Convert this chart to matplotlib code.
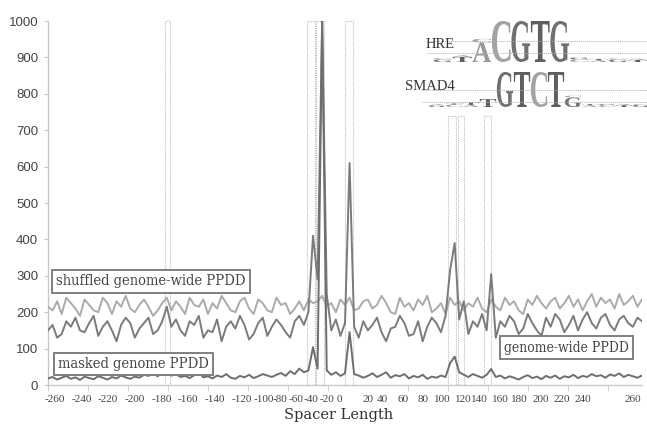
import numpy as np
import matplotlib
matplotlib.use("Agg")
import matplotlib.pyplot as plt
from matplotlib.patches import Rectangle, PathPatch
from matplotlib.textpath import TextPath
from matplotlib.font_manager import FontProperties
import matplotlib.transforms as mtransforms

# spacer length grid (step 4)
spacer = np.arange(-260, 261, 4)

genome_wide = [
    150, 165, 130, 140, 175, 160, 185, 150, 145, 170,
    190, 135, 160, 175, 150, 120, 165, 185, 170, 130,
    155, 170, 185, 140, 150, 175, 215, 160, 180, 150,
    135, 175, 165, 190, 130, 150, 145, 180, 120, 160,
    175, 155, 190, 165, 125, 140, 170, 185, 135, 160,
    180, 165, 145, 130, 175, 190, 165, 200, 410, 290,
    1000, 250, 150, 180, 135, 170, 610, 160, 130, 175,
    150, 165, 185, 145, 120, 155, 160, 190, 170, 135,
    140, 175, 120, 160, 185, 170, 145, 190, 315, 390,
    180, 230, 140, 175, 160, 195, 150, 305, 130, 175,
    160, 190, 175, 140, 155, 195, 170, 150, 135, 185,
    160, 195, 180, 145, 165, 190, 150, 180, 200, 170,
    155, 185, 195, 165, 150, 180, 190, 170, 160, 185, 175,
]

shuffled = [
    215, 205, 230, 195, 240, 225, 210, 190, 235, 220,
    205, 200, 240, 225, 195, 230, 215, 245, 210, 200,
    220, 235, 215, 190, 205, 225, 240, 205, 230, 215,
    195, 240, 220, 215, 235, 195, 225, 210, 245, 225,
    205, 200, 230, 240, 210, 195, 235, 225, 205, 200,
    240, 220, 225, 195, 210, 230, 205, 235, 225, 230,
    245, 215, 225, 200, 235, 220, 240, 205, 210, 230,
    235, 210, 220, 245, 225, 200, 195, 240, 215, 225,
    205, 235, 220, 245, 200, 210, 225, 195, 240, 220,
    230, 205, 225, 215, 240, 210, 200, 235, 215, 205,
    240, 220, 230, 205, 195, 235, 220, 245, 225, 210,
    230, 240, 210, 225, 245, 215, 235, 205, 230, 250,
    215, 240, 225, 235, 210, 250, 220, 230, 245, 215, 235,
]

masked = [
    18, 22, 15, 20, 25, 17, 21, 14, 23, 19,
    16, 24, 20, 15, 22, 18, 26, 21, 17, 23,
    20, 28, 25, 32, 24, 35, 38, 26, 30, 22,
    25, 19, 27, 35, 21, 24, 18, 26, 22, 30,
    20, 17, 25, 21, 28, 19, 24, 30, 26, 22,
    28, 33, 25, 38, 30, 45, 35, 40, 104, 45,
    1000, 40, 28, 35, 25, 32, 145, 30, 26, 20,
    25, 32, 22, 28, 35, 20, 27, 24, 30, 18,
    25, 21, 28, 17, 23, 20, 26, 22, 60, 78,
    35, 28, 22, 30, 25, 20, 28, 44, 22, 26,
    18, 24, 20, 15, 22, 27, 19, 23, 16, 25,
    20, 26, 17, 24, 21, 28, 19, 25, 22, 30,
    24, 27, 20, 29, 25, 32, 22, 28, 24, 20, 26,
]

# highlighted spacer windows (start, end, top)
windows_start = [-158, -33, -25, 0, 90, 99, 122]
windows_end = [-153, -26, -18, 7, 97, 104, 128]
windows_top = [1000, 1000, 1000, 1000, 740, 740, 740]

# x tick labels and where they sit along the axis
xlabels = ["-260", "-240", "-220", "-200", "-180", "-160", "-140", "-120", "-100",
           "-80", "-60", "-40", "-20", "0", "20", "40", "60", "80", "100", "120",
           "140", "160", "180", "200", "220", "240", "260"]
xlabel_pos = [-254, -230, -207.5, -184, -160, -137.5, -114, -90, -71,
              -56.5, -43, -29.5, -16, -5, 20, 32.5, 51, 68.5, 85, 103.5,
              118, 136, 153, 171, 190, 208.5, 252]

# sequence logos: letters per column (bottom to top) and their heights in bits
hre_letters = [["G", "C"], ["T", "A"], ["A", "C"], ["C"], ["G"], ["T"], ["G"],
               ["C", "G"], ["A", "T"], ["G", "C"], ["T", "A"]]
hre_heights = [[0.12, 0.07], [0.25, 0.08], [0.95, 0.18], [2.0], [2.0], [2.0], [2.0],
               [0.14, 0.08], [0.09, 0.06], [0.12, 0.06], [0.1, 0.06]]
smad_letters = [["G", "A"], ["C", "T"], ["A", "T"], ["T"], ["G"], ["T"], ["C"], ["T"],
                ["G", "C"], ["A", "T"], ["C", "G"], ["T", "A"], ["G", "C"]]
smad_heights = [[0.1, 0.06], [0.14, 0.06], [0.12, 0.14], [0.45], [2.0], [2.0], [2.0], [2.0],
                [0.55, 0.1], [0.1, 0.06], [0.12, 0.05], [0.1, 0.07], [0.12, 0.05]]
letter_colors = {"A": "#9a9a9a", "C": "#a3a3a3", "G": "#707070", "T": "#5f5f5f"}

W, H = 647, 425
fig = plt.figure(figsize=(W / 100, H / 100), dpi=100)
ax = fig.add_axes([48 / W, 40 / H, 594 / W, 364 / H])

ax.plot(spacer, shuffled, color="#ababab", lw=1.4, zorder=3)
ax.plot(spacer, genome_wide, color="#7b7b7b", lw=1.4, zorder=4)
ax.plot(spacer, masked, color="#6e6e6e", lw=1.4, zorder=4)

for x0, x1, top in zip(windows_start, windows_end, windows_top):
    ax.add_patch(Rectangle((x0, 0), x1 - x0, top, fill=False, ec="#bdbdbd",
                           lw=0.8, ls=(0, (1, 1)), zorder=2))

ax.set_xlim(-260, 260)
ax.set_ylim(0, 1000)
ax.set_yticks(np.arange(0, 1001, 100))
ax.tick_params(axis="y", length=3, color="#c8c8c8", labelsize=9.5, labelcolor="#444444", pad=4)
for lab in ax.get_yticklabels():
    lab.set_family("Liberation Sans")

ax.set_xticks(xlabel_pos)
ax.set_xticklabels(xlabels, family="Liberation Serif", fontsize=8, color="#444444")
ax.tick_params(axis="x", length=0, pad=7)
ax.set_xticks(np.arange(-260, 261, 35), minor=True)
ax.tick_params(axis="x", which="minor", length=4, color="#c8c8c8")

for side in ["top", "right"]:
    ax.spines[side].set_visible(False)
for side in ["left", "bottom"]:
    ax.spines[side].set_color("#c8c8c8")
    ax.spines[side].set_linewidth(1.0)

fig.text(339 / W, 1 - 408 / H, "Spacer Length", ha="center", va="top",
         family="DejaVu Serif", fontsize=10.5, color="#333333")

box = dict(boxstyle="square,pad=0.3", fc="white", ec="#7f7f7f", lw=1.4)
ax.text(-170, 285, "shuffled genome-wide PPDD", ha="center", va="center", family="DejaVu Serif",
        stretch="condensed", fontsize=10.5, color="#444444", bbox=box, zorder=6)
ax.text(-185, 58, "masked genome PPDD", ha="center", va="center", family="DejaVu Serif",
        stretch="condensed", fontsize=10.5, color="#444444", bbox=box, zorder=6)
ax.text(194, 103, "genome-wide PPDD", ha="center", va="center", family="DejaVu Serif",
        stretch="condensed", fontsize=10, color="#444444", bbox=box, zorder=6)

# sequence logos
logo_font = FontProperties(family="Liberation Serif", weight="bold")


def draw_logo(rect, letters, heights, guides):
    lax = fig.add_axes(rect)
    lax.set_xlim(0, len(letters))
    lax.set_ylim(0, 2)
    lax.axis("off")
    for g in guides:
        lax.axhline(g, xmin=-0.03, xmax=1, color="#b0b0b0", lw=0.7, ls=(0, (1, 1)), clip_on=False)
    for i, (col, hs) in enumerate(zip(letters, heights)):
        base = 0
        for ch, h in zip(col, hs):
            tp = TextPath((0, 0), ch, size=1, prop=logo_font)
            bb = tp.get_extents()
            tr = (mtransforms.Affine2D().translate(-bb.x0, -bb.y0)
                  .scale(0.96 / bb.width, h / bb.height).translate(i + 0.02, base))
            lax.add_patch(PathPatch(tr.transform_path(tp), fc=letter_colors[ch], ec="none", clip_on=False))
            base += h
    return lax


draw_logo([433 / W, (H - 62) / H, 214.5 / W, 41 / H], hre_letters, hre_heights, [1.04, 0.44])
draw_logo([428.5 / W, (H - 107) / H, 221 / W, 35 / H], smad_letters, smad_heights, [0.97, 0.3])

fig.text(455 / W, 1 - 44 / H, "HRE", ha="right", va="center", family="Liberation Serif",
         fontsize=10.5, color="#333333")
fig.text(455 / W, 1 - 86 / H, "SMAD4", ha="right", va="center", family="Liberation Serif",
         fontsize=10.5, color="#333333")

fig.savefig("out.png", dpi=100)
